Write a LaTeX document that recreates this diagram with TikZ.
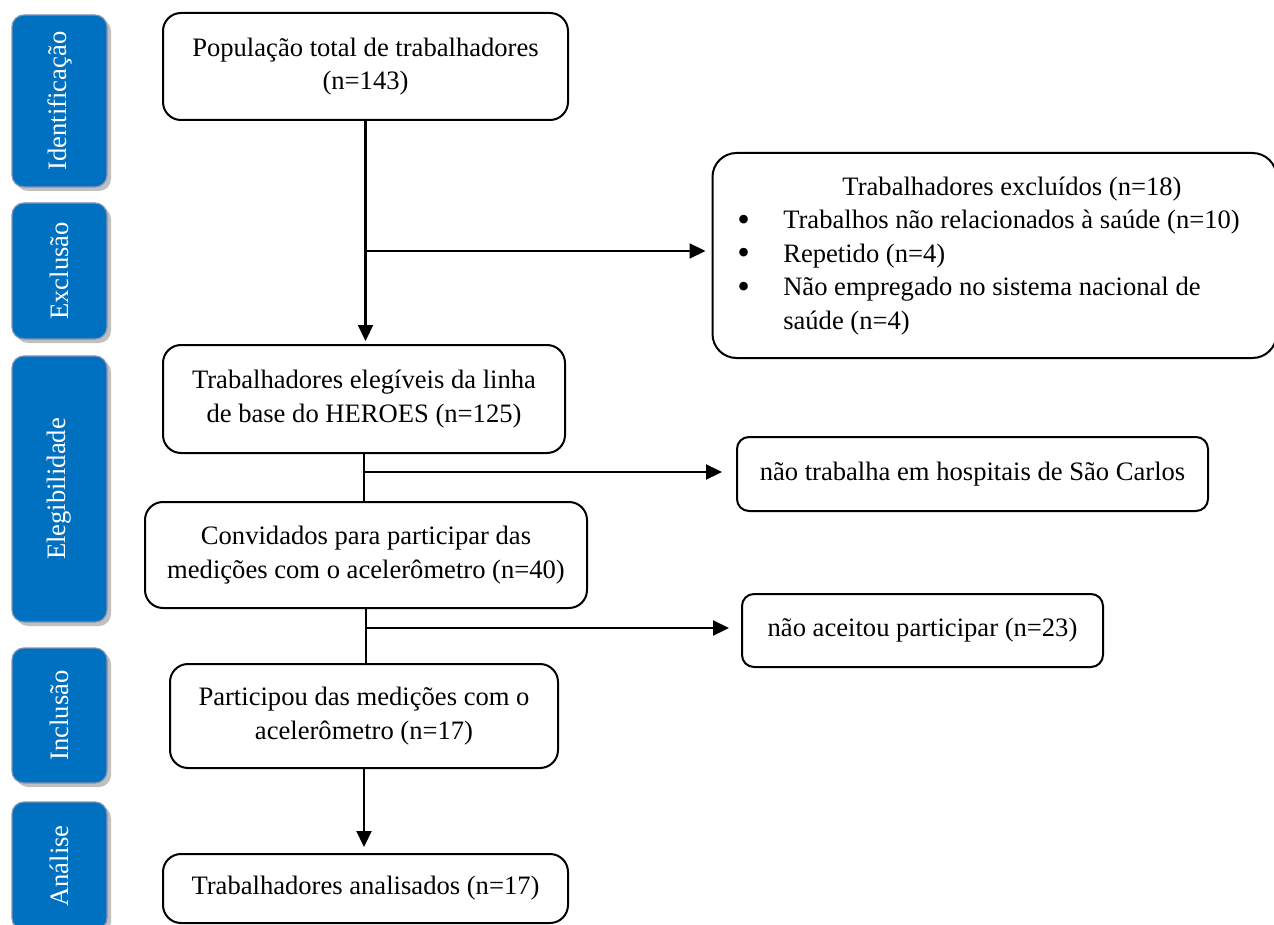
\documentclass[tikz,border=0pt]{standalone}
\usepackage{fontspec}
\setmainfont{Liberation Serif}
\usepackage{graphicx}
\usetikzlibrary{arrows.meta,shadows}
\definecolor{tabblue}{HTML}{0070C0}
\definecolor{tabedge}{HTML}{7F95B0}
\newcommand{\bigbul}{\smash{\raisebox{-0.1em}{\scalebox{1.35}{\textbullet}}}}
\begin{document}
\begin{tikzpicture}[x=0.5pt,y=-0.5pt,
  font=\fontsize{13.3}{16.8}\selectfont,
  flowbox/.style={draw, line width=1pt, rounded corners=9pt, align=center, inner sep=0pt},
  sidebox/.style={draw, line width=1pt, rounded corners=6pt, align=center, inner sep=0pt},
  tabbox/.style={fill=tabblue, draw=tabedge, line width=0.6pt, rounded corners=6pt,
    text=white, minimum width=47.5pt, inner sep=0pt,
    drop shadow={shadow xshift=2pt, shadow yshift=-2pt, opacity=0.45, fill=black!55}},
  conn/.style={line width=1.1pt},
  arr/.style={conn, -{Triangle[length=8pt,width=7.5pt]}}
]
\useasboundingbox (0,0) rectangle (1274,925);

% side tabs
\node[tabbox, minimum height=86pt]   (t1) at (59.5,101)   {\rotatebox{90}{Identificação}};
\node[tabbox, minimum height=68pt]   (t2) at (59.5,271)   {\rotatebox{90}{Exclusão}};
\node[tabbox, minimum height=133pt]  (t3) at (59.5,489)   {\rotatebox{90}{Elegibilidade}};
\node[tabbox, minimum height=67.5pt] (t4) at (59.5,715.5) {\rotatebox{90}{Inclusão}};
\node[tabbox, minimum height=64pt]   (t5) at (59.5,866)   {\rotatebox{90}{Análise}};

% main boxes
\node[flowbox, minimum width=202.5pt, minimum height=53.5pt] (pop) at (365.5,66.5)
  {População total de trabalhadores\\(n=143)};
\node[flowbox, rounded corners=12pt, minimum width=282pt, minimum height=102.5pt] (excl) at (994.5,255.5)
  {\begin{tabular}{@{}p{23pt}@{}l@{}}
   \multicolumn{2}{c}{\hspace{23.5pt}Trabalhadores excluídos (n=18)}\\
   \bigbul & Trabalhos não relacionados à saúde (n=10)\\
   \bigbul & Repetido (n=4)\\
   \bigbul & Não empregado no sistema nacional de\\
           & saúde (n=4)
   \end{tabular}\hspace{6pt}};
\node[flowbox, minimum width=201pt, minimum height=54pt] (elig) at (364,399)
  {Trabalhadores elegíveis da linha\\de base do HEROES (n=125)};
\node[sidebox, minimum width=235.5pt, minimum height=37pt] (nhosp) at (972.5,474)
  {não trabalha em hospitais de São Carlos};
\node[flowbox, minimum width=221pt, minimum height=53pt] (conv) at (366,555)
  {Convidados para participar das\\medições com o acelerômetro (n=40)};
\node[sidebox, minimum width=180.5pt, minimum height=36.5pt] (naceit) at (922.5,630.5)
  {não aceitou participar (n=23)};
\node[flowbox, minimum width=194pt, minimum height=52pt] (part) at (364,716)
  {Participou das medições com o\\acelerômetro (n=17)};
\node[flowbox, minimum width=202.5pt, minimum height=34.5pt] (anal) at (365.5,888.5)
  {Trabalhadores analisados (n=17)};

% connectors
\coordinate (y1) at (0,251);
\coordinate (y2) at (0,472);
\coordinate (y3) at (0,628);
\coordinate (j1) at (pop.south |- y1);
\coordinate (j2) at (elig.south |- y2);
\coordinate (j3) at (conv.south |- y3);

\draw[arr, shorten >=1.5pt] (pop.south) -- (pop.south |- elig.north);
\draw[arr, shorten >=3pt] (j1) -- (j1 -| excl.west);
\draw[conn] (elig.south) -- (elig.south |- conv.north);
\draw[arr, shorten >=7pt] (j2) -- (j2 -| nhosp.west);
\draw[conn] (conv.south) -- (conv.south |- part.north);
\draw[arr, shorten >=6pt] (j3) -- (j3 -| naceit.west);
\draw[arr, shorten >=3pt] (part.south) -- (part.south |- anal.north);
\end{tikzpicture}
\end{document}
